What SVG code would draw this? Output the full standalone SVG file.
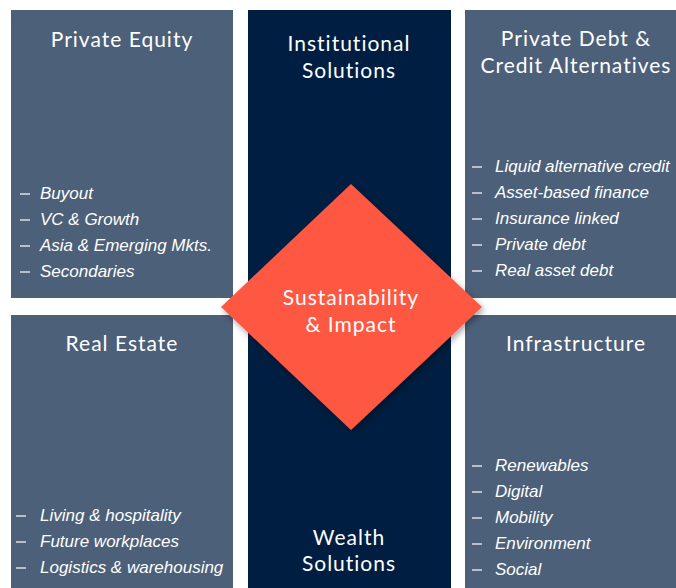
<svg xmlns="http://www.w3.org/2000/svg" width="676" height="588" viewBox="0 0 676 588">
<defs>
<style>
.box{fill:#4c6079}
.mid{fill:#001e41}
.title{font-family:Lato,"Liberation Sans",sans-serif;font-size:21px;fill:#ffffff;text-anchor:middle;letter-spacing:1px}
.item{font-family:"Liberation Sans",Arial,sans-serif;font-style:italic;font-size:17px;fill:#ffffff;letter-spacing:0}
.dash{stroke:#ffffff;stroke-width:1.2}
</style>
<filter id="sh" x="-20%" y="-20%" width="140%" height="140%">
<feDropShadow dx="2" dy="3" stdDeviation="3" flood-color="#000" flood-opacity="0.35"/>
</filter>
</defs>
<rect width="676" height="588" fill="#ffffff"/>
<g id="institutional-wealth">
<rect class="mid" x="248" y="10" width="203" height="578"/>
<text class="title" x="349" y="51">Institutional</text>
<text class="title" x="349" y="78">Solutions</text>
<text class="title" x="349" y="545">Wealth</text>
<text class="title" x="349" y="571">Solutions</text>
</g>
<g id="private-equity">
<rect class="box" x="11" y="10" width="222" height="288"/>
<text class="title" x="122" y="47">Private Equity</text>
<g class="dash"><line x1="20" y1="194" x2="30" y2="194"/><line x1="20" y1="220" x2="30" y2="220"/><line x1="20" y1="246" x2="30" y2="246"/><line x1="20" y1="272" x2="30" y2="272"/></g>
<text class="item" x="40" y="199">Buyout</text>
<text class="item" x="40" y="225">VC &amp; Growth</text>
<text class="item" x="40" y="251">Asia &amp; Emerging Mkts.</text>
<text class="item" x="40" y="277">Secondaries</text>
</g>
<g id="private-debt">
<rect class="box" x="465" y="10" width="211" height="288"/>
<text class="title" x="576" y="46">Private Debt &amp;</text>
<text class="title" x="576" y="73">Credit Alternatives</text>
<g class="dash"><line x1="472" y1="167" x2="482" y2="167"/><line x1="472" y1="193" x2="482" y2="193"/><line x1="472" y1="219" x2="482" y2="219"/><line x1="472" y1="245" x2="482" y2="245"/><line x1="472" y1="271" x2="482" y2="271"/></g>
<text class="item" x="495" y="172">Liquid alternative credit</text>
<text class="item" x="495" y="198">Asset-based finance</text>
<text class="item" x="495" y="224">Insurance linked</text>
<text class="item" x="495" y="250">Private debt</text>
<text class="item" x="495" y="276">Real asset debt</text>
</g>
<g id="real-estate">
<rect class="box" x="11" y="315" width="222" height="273"/>
<text class="title" x="122" y="351">Real Estate</text>
<g class="dash"><line x1="16" y1="516" x2="26" y2="516"/><line x1="16" y1="542" x2="26" y2="542"/><line x1="16" y1="568" x2="26" y2="568"/></g>
<text class="item" x="40" y="521">Living &amp; hospitality</text>
<text class="item" x="40" y="547">Future workplaces</text>
<text class="item" x="40" y="573">Logistics &amp; warehousing</text>
</g>
<g id="infrastructure">
<rect class="box" x="465" y="315" width="211" height="273"/>
<text class="title" x="576" y="351">Infrastructure</text>
<g class="dash"><line x1="472" y1="466" x2="482" y2="466"/><line x1="472" y1="492" x2="482" y2="492"/><line x1="472" y1="518" x2="482" y2="518"/><line x1="472" y1="544" x2="482" y2="544"/><line x1="472" y1="570" x2="482" y2="570"/></g>
<text class="item" x="495" y="471">Renewables</text>
<text class="item" x="495" y="497">Digital</text>
<text class="item" x="495" y="523">Mobility</text>
<text class="item" x="495" y="549">Environment</text>
<text class="item" x="495" y="575">Social</text>
</g>
<g id="sustainability">
<polygon points="351,184 482,307 351,430 221,307" fill="#fe5842" filter="url(#sh)"/>
<text class="title" x="351" y="305">Sustainability</text>
<text class="title" x="351" y="332">&amp; Impact</text>
</g>
<g id="connectors"/>
</svg>
